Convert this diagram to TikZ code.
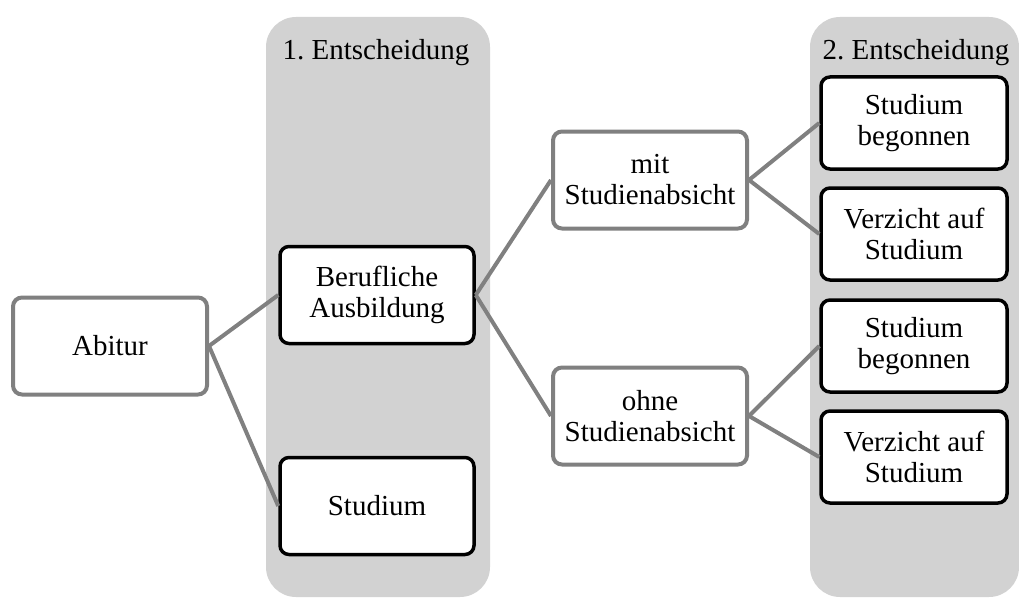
\documentclass[tikz,border=0pt]{standalone}
\usepackage{fontspec}
\setmainfont{Liberation Serif}
\usepackage{tikz}
\definecolor{PanelGray}{HTML}{D2D2D2}
\definecolor{LinkGray}{HTML}{808080}

\tikzset{
  panel/.style={fill=PanelGray, draw=none, rounded corners=30pt},
  graybox/.style={draw=LinkGray, line width=4pt, fill=white, rounded corners=9pt,
                  align=center, minimum width=194pt, minimum height=97pt,
                  inner sep=2pt, font=\fontsize{29}{31}\selectfont},
  blackbox/.style={graybox, draw=black, line width=3.5pt},
  rightbox/.style={blackbox, minimum width=186pt, minimum height=92pt},
  header/.style={font=\fontsize{29}{31}\selectfont, inner sep=0pt},
  link/.style={draw=LinkGray, line width=4pt}
}

\begin{document}
\begin{tikzpicture}[x=1pt,y=-1pt]
  \useasboundingbox (0,0) rectangle (1019,599);
  % panels
  \fill[panel] (266,17) rectangle (490,597);
  \fill[panel] (810,17) rectangle (1019,597);
  \node[header, anchor=base] (head1) at (376,60) {1.\ Entscheidung};
  \node[header, anchor=base] (head2) at (916,60) {2.\ Entscheidung};
  % boxes
  \node[graybox] (abitur) at (110,346) {Abitur};
  \node[blackbox] (beruf) at (377,295) {Berufliche\\ Ausbildung};
  \node[blackbox] (studium) at (377,506) {Studium};
  \node[graybox] (mit) at (650,180) {mit\\ Studienabsicht};
  \node[graybox] (ohne) at (650,416) {ohne\\ Studienabsicht};
  \node[rightbox] (mitbeg) at (914,123) {Studium\\ begonnen};
  \node[rightbox] (mitverz) at (914,234) {Verzicht auf\\ Studium};
  \node[rightbox] (ohnebeg) at (914,346) {Studium\\ begonnen};
  \node[rightbox] (ohneverz) at (914,457) {Verzicht auf\\ Studium};
  % connectors
  \draw[link] (abitur.east) -- (beruf.west);
  \draw[link] (abitur.east) -- (studium.west);
  \draw[link] (beruf.east) -- (mit.west);
  \draw[link] (beruf.east) -- (ohne.west);
  \draw[link] (mit.east) -- (mitbeg.west);
  \draw[link] (mit.east) -- (mitverz.west);
  \draw[link] (ohne.east) -- (ohnebeg.west);
  \draw[link] (ohne.east) -- (ohneverz.west);
\end{tikzpicture}
\end{document}
